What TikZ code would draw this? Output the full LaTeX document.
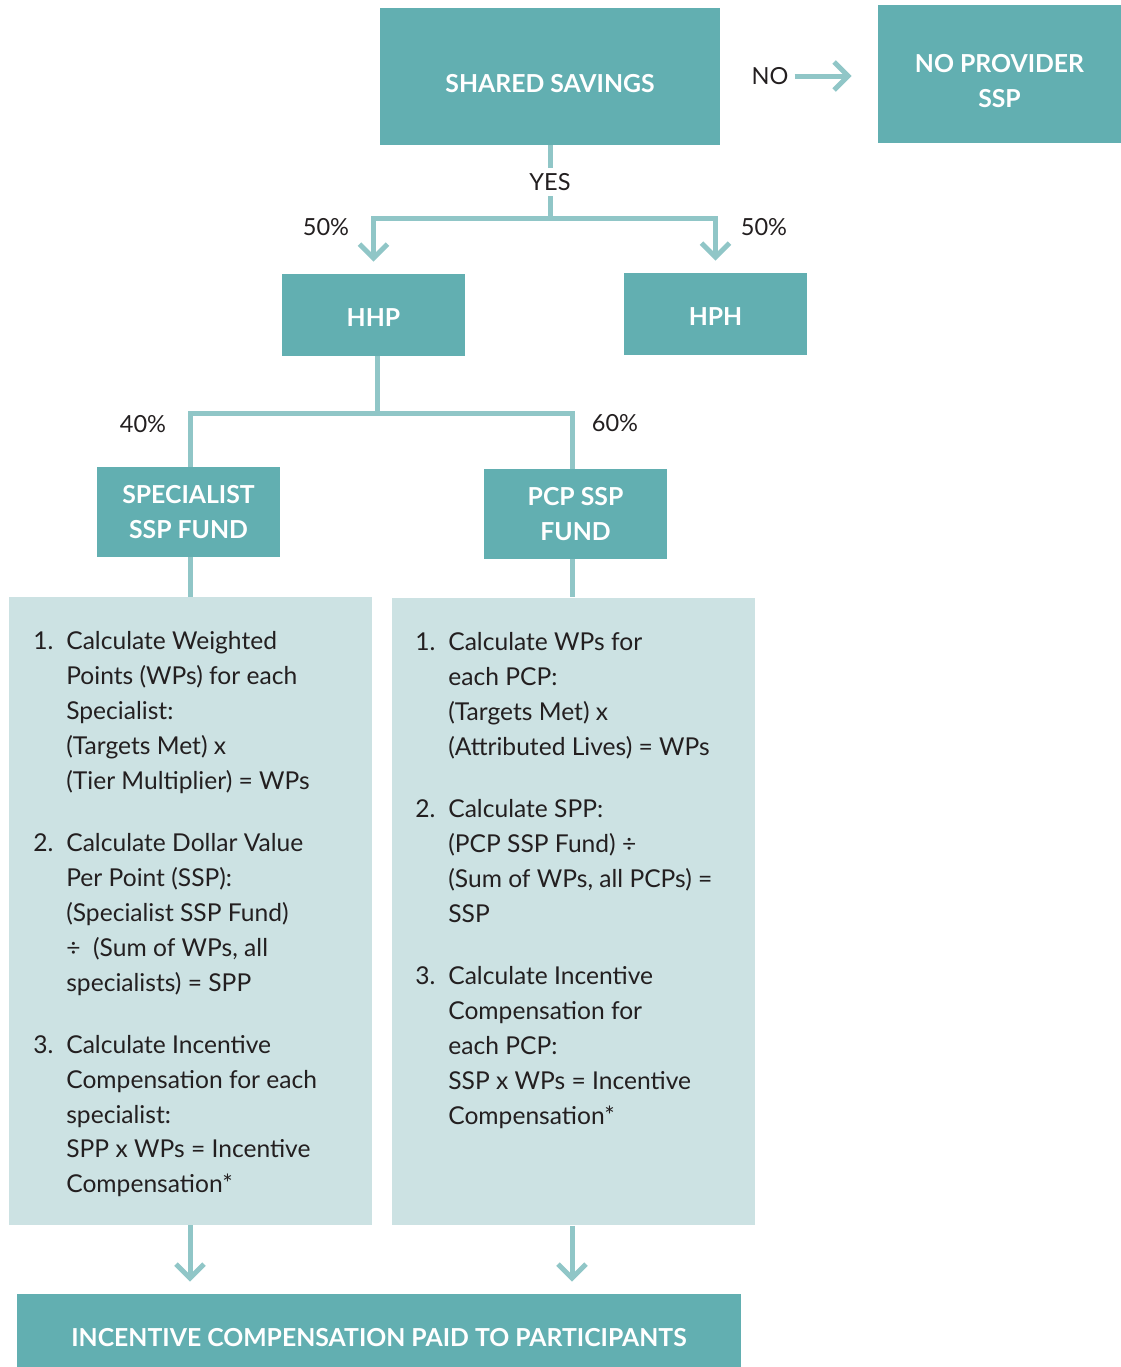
\documentclass[tikz,border=0pt]{standalone}
\usepackage{fontspec}
\setmainfont{Lato}
\usetikzlibrary{arrows.meta}
\definecolor{boxteal}{HTML}{62AFB1}
\definecolor{panelblue}{HTML}{CCE2E3}
\definecolor{linkteal}{HTML}{90C6C7}
\definecolor{inkgrey}{HTML}{231F20}
\newcommand{\numitem}[1]{\makebox[0.66cm][l]{#1}}
\newcommand{\numpad}{\hspace*{0.66cm}}
\newcommand{\lowcap}{\rule{0pt}{0.64cm}}

\begin{document}
\begin{tikzpicture}[x=0.02cm,y=-0.02cm]
\tikzstyle{title}=[fill=boxteal,text=white,font=\fontsize{14.1}{19.9}\selectfont\bfseries,align=center,inner sep=0pt]
\tikzstyle{panel}=[fill=panelblue,minimum width=7.26cm,minimum height=12.56cm,inner sep=0pt]
\tikzstyle{steps}=[text=inkgrey,font=\fontsize{14}{19.9}\selectfont,align=left,anchor=north west,inner sep=0pt]
\tikzstyle{link}=[draw=linkteal,line width=0.1cm]
\tikzstyle{linkarrow}=[link,-{Straight Barb[length=0.28cm,width=0.56cm]},shorten >=0.24cm]
\tikzstyle{label}=[text=inkgrey,font=\fontsize{13.4}{16}\selectfont]
\useasboundingbox (0,0) rectangle (1121,1367);
% boxes
\node[title,minimum width=6.8cm,minimum height=2.74cm] (ss) at (550,76.5) {\lowcap SHARED SAVINGS};
\node[title,minimum width=4.86cm,minimum height=2.76cm] (nossp) at (999.5,74) {\lowcap NO PROVIDER\\SSP};
\node[title,minimum width=3.66cm,minimum height=1.64cm] (hhp) at (373.5,315) {\rule{0pt}{0.44cm}HHP};
\node[title,minimum width=3.66cm,minimum height=1.64cm] (hph) at (715.5,314) {\rule{0pt}{0.44cm}HPH};
\node[title,minimum width=3.66cm,minimum height=1.8cm] (spec) at (188.5,512) {SPECIALIST\\SSP FUND};
\node[title,minimum width=3.66cm,minimum height=1.8cm] (pcp) at (575.5,514) {PCP SSP\\FUND};
\node[panel] (lpanel) at (190.5,911) {};
\node[panel] (rpanel) at (573.5,911.5) {};
\node[title,minimum width=14.48cm,minimum height=1.46cm] (paid) at (379,1330.5) {\lowcap INCENTIVE COMPENSATION PAID TO PARTICIPANTS};
% connectors
\node[label] (no) at (770,76) {NO};
\draw[linkarrow,shorten >=0.52cm] (no.east) -- (no.east -| nossp.west);
\coordinate (yesjoin) at (550,218);
\draw[link] (ss.south) -- (yesjoin);
\node[label,fill=white,inner sep=3pt] (yes) at (550,182) {YES};
\draw[linkarrow] (yesjoin) -| (hhp.north);
\draw[linkarrow] (yesjoin) -| (hph.north);
\node[label] (hhppct) at (326,227) {50\%};
\node[label] (hphpct) at (764,227) {50\%};
\coordinate (hhpjoin) at (377,413);
\coordinate (specline) at (190,0);
\coordinate (pcpline) at (572,0);
\draw[link] (hhp.south -| hhpjoin) -- (hhpjoin);
\draw[link] (hhpjoin) -| (spec.north -| specline);
\draw[link] (hhpjoin) -| (pcp.north -| pcpline);
\node[label] (specpct) at (143,424) {40\%};
\node[label] (pcppct) at (615,423) {60\%};
\draw[link] (spec.south -| specline) -- (lpanel.north -| specline);
\draw[link] (pcp.south -| pcpline) -- (rpanel.north -| pcpline);
\draw[linkarrow] (lpanel.south -| specline) -- (paid.north -| specline);
\draw[linkarrow] (rpanel.south -| pcpline) -- (paid.north -| pcpline);
% steps
\node[steps] (lsteps) at (33,631) {\numitem{1.}Calculate Weighted\\
\numpad Points (WPs) for each\\
\numpad Specialist:\\
\numpad (Targets Met) x\\
\numpad (Tier Multiplier) = WPs\\[0.54cm]
\numitem{2.}Calculate Dollar Value\\
\numpad Per Point (SSP):\\
\numpad (Specialist SSP Fund)\\
\numpad ÷\ \ (Sum of WPs, all\\
\numpad specialists) = SPP\\[0.54cm]
\numitem{3.}Calculate Incentive\\
\numpad Compensation for each\\
\numpad specialist:\\
\numpad SPP x WPs = Incentive\\
\numpad Compensation*};
\node[steps] (rsteps) at (415,632) {\numitem{1.}Calculate WPs for\\
\numpad each PCP:\\
\numpad (Targets Met) x\\
\numpad (Attributed Lives) = WPs\\[0.54cm]
\numitem{2.}Calculate SPP:\\
\numpad (PCP SSP Fund) ÷\\
\numpad (Sum of WPs, all PCPs) =\\
\numpad SSP\\[0.54cm]
\numitem{3.}Calculate Incentive\\
\numpad Compensation for\\
\numpad each PCP:\\
\numpad SSP x WPs = Incentive\\
\numpad Compensation*};
\end{tikzpicture}
\end{document}
